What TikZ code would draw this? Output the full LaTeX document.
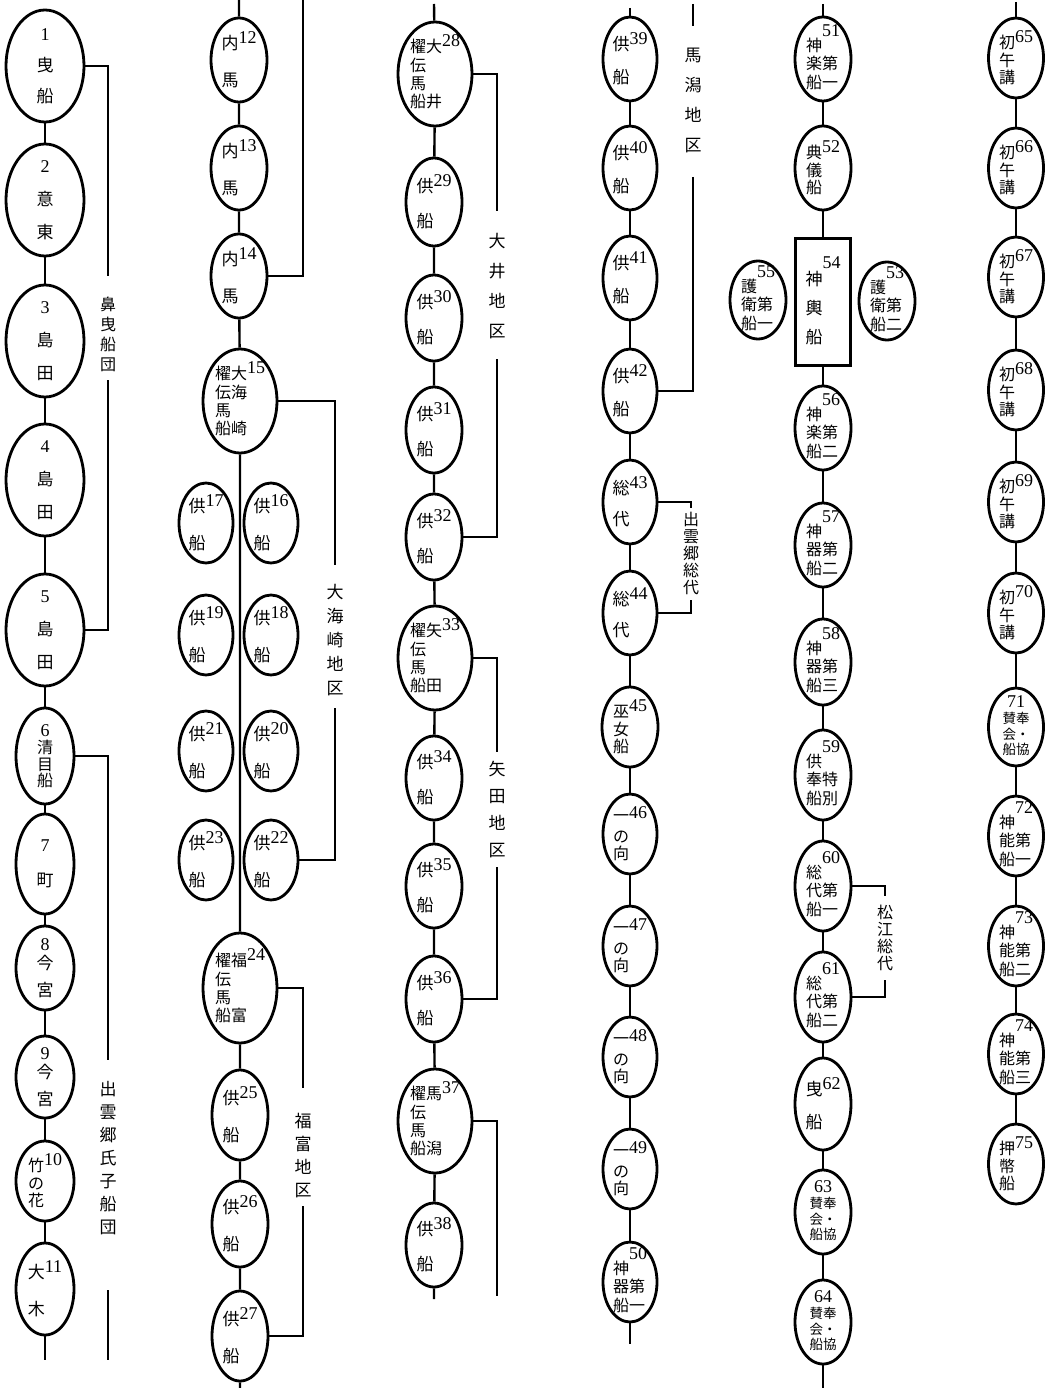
\documentclass[tikz,border=0pt]{standalone}
\usepackage{fontspec}
\newfontfamily\jp{Noto Sans CJK JP}
\newfontfamily\numf{Liberation Serif}
\usetikzlibrary{shapes.geometric}

% numbers written beside or above the boat names
\newcommand\bn[1]{\raisebox{6pt}{\numf\fontsize{18}{18}\selectfont#1}}
\newcommand\bnum[1]{{\numf\fontsize{18}{18}\selectfont#1}}

\begin{document}
\begin{tikzpicture}[
    x=1pt, y=-1pt,
    font=\jp\fontsize{17}{19}\selectfont,
    boat/.style={
        ellipse, draw, line width=2.8pt, inner sep=-40pt,
        minimum width=56pt, minimum height=84pt, align=left,
    },
    bigboat/.style={boat, minimum width=78pt, minimum height=112pt, align=center},
    oarboat/.style={boat, minimum width=74pt, minimum height=104pt, tight},
    pairboat/.style={boat, minimum width=54pt, minimum height=80pt},
    shrine/.style={
        rectangle, draw, line width=2.8pt, inner sep=-40pt,
        minimum width=55pt, minimum height=127pt,
    },
    tight/.style={font=\jp\fontsize{16}{17.5}\selectfont},
    mini/.style={font=\jp\fontsize{13.5}{14}\selectfont},
    lnk/.style={line width=2.4pt},
    brk/.style={line width=2pt},
    grp/.style={align=center, inner sep=0pt, font=\jp\fontsize{17}{18}\selectfont},
]
\useasboundingbox[fill=white] (0,0) rectangle (1050,1388);

% ============ COLUMN 1 ============
\node[bigboat] (b1) at (45,66)  {\bnum{1}\\[12pt]曳\\[12pt]船};
\node[bigboat] (b2) at (45,200) {\bnum{2}\\[14pt]意\\[14pt]東};
\node[bigboat] (b3) at (45,341) {\bnum{3}\\[14pt]島\\[14pt]田};
\node[bigboat] (b4) at (45,480) {\bnum{4}\\[14pt]島\\[14pt]田};
\node[bigboat] (b5) at (45,630) {\bnum{5}\\[14pt]島\\[14pt]田};
\node[boat, tight, align=center, minimum width=58pt, minimum height=96pt] (b6) at (45,756) {\bnum{6}\\[0pt]清\\[-1pt]目\\[-1pt]船};
\node[boat, align=center, minimum width=58pt, minimum height=100pt] (b7) at (45,864) {\bnum{7}\\[16pt]町};
\node[boat, align=center, minimum width=58pt] (b8) at (45,968) {\bnum{8}\\[0pt]今\\[8pt]宮};
\node[boat, align=center, minimum width=58pt, minimum height=82pt] (b9) at (45,1077) {\bnum{9}\\[0pt]今\\[8pt]宮};
\node[boat, tight, minimum width=58pt, minimum height=80pt] (b10) at (45,1181) {竹\bn{10}\\の\\花};
\node[boat, minimum width=58pt, minimum height=92pt] (b11) at (45,1289) {大\bn{11}\\[18pt]木};
\coordinate (c1end) at (45,1360);

\draw[lnk] (b1) -- (b2) (b2) -- (b3) (b3) -- (b4) (b4) -- (b5) (b5) -- (b6)
    (b6) -- (b7) (b7) -- (b8) (b8) -- (b9) (b9) -- (b10) (b10) -- (b11) (b11) -- (c1end);

% -- bracket: 鼻曳船団 --
\coordinate (brA1) at (108,276);
\coordinate (brA2) at (108,380);
\node[grp, font=\jp\fontsize{16}{18}\selectfont] (gA) at (108,334) {鼻\\[2pt]曳\\[2pt]船\\[2pt]団};
\draw[brk] (b1.east) -| (brA1);
\draw[brk] (brA2) |- (b5.east);

% -- bracket: 出雲郷氏子船団 (runs on into column 2) --
\coordinate (brB1) at (108,1060);
\coordinate (brB2) at (108,1290);
\coordinate (brB3) at (108,1360);
\node[grp] (gB) at (108,1158) {出\\[5pt]雲\\[5pt]郷\\[5pt]氏\\[5pt]子\\[5pt]船\\[5pt]団};
\draw[brk] (b6.east) -| (brB1);
\draw[brk] (brB2) -- (brB3);

% ============ COLUMN 2 ============
\node[boat] (b12) at (239,60)  {内\bn{12}\\[18pt]馬};
\node[boat] (b13) at (239,168) {内\bn{13}\\[18pt]馬};
\node[boat] (b14) at (239,276) {内\bn{14}\\[18pt]馬};
\node[oarboat] (b15) at (240,401) {\begin{tabular}{@{}l@{}l@{}}櫂&大\bn{15}\\伝&海\\馬&\\船&崎\end{tabular}};

\node[pairboat] (b17) at (206,523) {供\bn{17}\\[18pt]船};
\node[pairboat] (b16) at (271,523) {供\bn{16}\\[18pt]船};
\node[pairboat] (b19) at (206,635) {供\bn{19}\\[18pt]船};
\node[pairboat] (b18) at (271,635) {供\bn{18}\\[18pt]船};
\node[pairboat] (b21) at (206,751) {供\bn{21}\\[18pt]船};
\node[pairboat] (b20) at (271,751) {供\bn{20}\\[18pt]船};
\node[pairboat] (b23) at (206,860) {供\bn{23}\\[18pt]船};
\node[pairboat] (b22) at (271,860) {供\bn{22}\\[18pt]船};

\node[oarboat, minimum height=110pt] (b24) at (240,988) {\begin{tabular}{@{}l@{}l@{}}櫂&福\bn{24}\\伝&\\馬&\\船&富\end{tabular}};
\node[boat, minimum height=90pt] (b25) at (240,1115) {供\bn{25}\\[18pt]船};
\node[boat, minimum height=86pt] (b26) at (240,1224) {供\bn{26}\\[18pt]船};
\node[boat, minimum height=90pt] (b27) at (240,1336) {供\bn{27}\\[18pt]船};
\coordinate (c2top) at (239,0);
\coordinate (c2end) at (240,1388);

\draw[lnk] (c2top) -- (b12) (b12) -- (b13) (b13) -- (b14) (b14) -- (b15)
    (b15) -- (b24) (b24) -- (b25) (b25) -- (b26) (b26) -- (b27) (b27) -- (c2end);

% -- bracket: 出雲郷氏子船団, upper end --
\coordinate (brB4) at (303,0);
\draw[brk] (brB4) |- (b14.east);

% -- bracket: 大海崎地区 --
\coordinate (brC1) at (335,565);
\coordinate (brC2) at (335,708);
\node[grp] (gC) at (335,640) {大\\[6pt]海\\[6pt]崎\\[6pt]地\\[6pt]区};
\draw[brk] (b15.east) -| (brC1);
\draw[brk] (brC2) |- (b22.east);

% -- bracket: 福富地区 --
\coordinate (brD1) at (303,1088);
\coordinate (brD2) at (303,1206);
\node[grp] (gD) at (303,1156) {福\\[5pt]富\\[5pt]地\\[5pt]区};
\draw[brk] (b24.east) -| (brD1);
\draw[brk] (brD2) |- (b27.east);

% ============ COLUMN 3 ============
\node[oarboat] (b28) at (435,74) {\begin{tabular}{@{}l@{}l@{}}櫂&大\bn{28}\\伝&\\馬&\\船&井\end{tabular}};
\node[boat, minimum height=88pt] (b29) at (434,202) {供\bn{29}\\[16pt]船};
\node[boat, minimum height=86pt] (b30) at (434,318) {供\bn{30}\\[16pt]船};
\node[boat, minimum height=86pt] (b31) at (434,430) {供\bn{31}\\[16pt]船};
\node[boat, minimum height=86pt] (b32) at (434,537) {供\bn{32}\\[16pt]船};
\node[oarboat] (b33) at (435,658) {\begin{tabular}{@{}l@{}l@{}}櫂&矢\bn{33}\\伝&\\馬&\\船&田\end{tabular}};
\node[boat] (b34) at (434,778) {供\bn{34}\\[16pt]船};
\node[boat] (b35) at (434,886) {供\bn{35}\\[16pt]船};
\node[boat, minimum height=86pt] (b36) at (434,999) {供\bn{36}\\[16pt]船};
\node[oarboat] (b37) at (435,1121) {\begin{tabular}{@{}l@{}l@{}}櫂&馬\bn{37}\\伝&\\馬&\\船&潟\end{tabular}};
\node[boat] (b38) at (434,1245) {供\bn{38}\\[16pt]船};
\coordinate (c3top) at (434,4);
\coordinate (c3end) at (434,1299);

\draw[lnk] (c3top) -- (b28) (b28) -- (b29) (b29) -- (b30) (b30) -- (b31) (b31) -- (b32)
    (b32) -- (b33) (b33) -- (b34) (b34) -- (b35) (b35) -- (b36) (b36) -- (b37)
    (b37) -- (b38) (b38) -- (c3end);

% -- bracket: 大井地区 --
\coordinate (brE1) at (497,211);
\coordinate (brE2) at (497,359);
\node[grp] (gE) at (497,286) {大\\[12pt]井\\[12pt]地\\[12pt]区};
\draw[brk] (b28.east) -| (brE1);
\draw[brk] (brE2) |- (b32.east);

% -- bracket: 矢田地区 --
\coordinate (brF1) at (497,752);
\coordinate (brF2) at (497,867);
\node[grp] (gF) at (497,810) {矢\\[9pt]田\\[9pt]地\\[9pt]区};
\draw[brk] (b33.east) -| (brF1);
\draw[brk] (brF2) |- (b36.east);

% -- bracket: 馬潟地区 (runs on into column 4) --
\coordinate (brG1) at (497,1296);
\draw[brk] (b37.east) -| (brG1);

% ============ COLUMN 4 ============
\node[boat, minimum width=54pt] (b39) at (630,59)  {供\bn{39}\\[14pt]船};
\node[boat, minimum width=54pt] (b40) at (630,168) {供\bn{40}\\[14pt]船};
\node[boat, minimum width=54pt] (b41) at (630,278) {供\bn{41}\\[14pt]船};
\node[boat, minimum width=54pt] (b42) at (630,391) {供\bn{42}\\[14pt]船};
\node[boat, minimum width=54pt] (b43) at (630,502) {総\bn{43}\\[12pt]代};
\node[boat, minimum width=54pt] (b44) at (630,613) {総\bn{44}\\[12pt]代};
\node[boat, tight, minimum width=56pt, minimum height=80pt] (b45) at (630,727) {巫\bn{45}\\女\\船};
\node[boat, tight, minimum width=54pt, minimum height=80pt] (b46) at (630,834) {\raisebox{3pt}{一}\bn{46}\\の\\向};
\node[boat, tight, minimum width=54pt, minimum height=80pt] (b47) at (630,946) {\raisebox{3pt}{一}\bn{47}\\の\\向};
\node[boat, tight, minimum width=54pt, minimum height=80pt] (b48) at (630,1057) {\raisebox{3pt}{一}\bn{48}\\の\\向};
\node[boat, tight, minimum width=54pt, minimum height=80pt] (b49) at (630,1169) {\raisebox{3pt}{一}\bn{49}\\の\\向};
\node[boat, tight, minimum width=54pt, minimum height=80pt] (b50) at (630,1282) {\begin{tabular}{@{}l@{}l@{}}&\bnum{50}\\[-4pt]神&\\器&第\\船&一\end{tabular}};
\coordinate (c4top) at (630,8);
\coordinate (c4end) at (630,1344);

\draw[lnk] (c4top) -- (b39) (b39) -- (b40) (b40) -- (b41) (b41) -- (b42) (b42) -- (b43)
    (b43) -- (b44) (b44) -- (b45) (b45) -- (b46) (b46) -- (b47) (b47) -- (b48)
    (b48) -- (b49) (b49) -- (b50) (b50) -- (c4end);

% -- bracket: 馬潟地区, upper end --
\coordinate (brG2) at (693,4);
\coordinate (brG3) at (693,26);
\coordinate (brG4) at (693,177);
\node[grp] (gG) at (693,100) {馬\\[12pt]潟\\[12pt]地\\[12pt]区};
\draw[brk] (brG2) -- (brG3);
\draw[brk] (brG4) |- (b42.east);

% -- bracket: 出雲郷総代 --
\coordinate (brH1) at (691,508);
\coordinate (brH2) at (691,600);
\node[grp, font=\jp\fontsize{16}{17}\selectfont] (gH) at (691,553) {出\\雲\\郷\\総\\代};
\draw[brk] (b43.east) -| (brH1);
\draw[brk] (brH2) |- (b44.east);

% ============ COLUMN 5 ============
\node[boat, tight] (b51) at (823,59) {\begin{tabular}{@{}l@{}l@{}}&\bnum{51}\\[-4pt]神&\\楽&第\\船&一\end{tabular}};
\node[boat, tight] (b52) at (823,168) {典\bn{52}\\儀\\船};
\node[shrine] (b54) at (823,302) {\begin{tabular}{@{}l@{}l@{}}&\bnum{54}\\[-3pt]神&\\[9pt]輿&\\[9pt]船&\end{tabular}};
\node[boat, tight, minimum height=78pt] (b55) at (758,300) {\begin{tabular}{@{}l@{}l@{}}&\bnum{55}\\[-4pt]護&\\衛&第\\船&一\end{tabular}};
\node[boat, tight, minimum height=78pt] (b53) at (887,301) {\begin{tabular}{@{}l@{}l@{}}&\bnum{53}\\[-4pt]護&\\衛&第\\船&二\end{tabular}};
\node[boat, tight, minimum height=84pt] (b56) at (823,428) {\begin{tabular}{@{}l@{}l@{}}&\bnum{56}\\[-4pt]神&\\楽&第\\船&二\end{tabular}};
\node[boat, tight, minimum height=84pt] (b57) at (823,545) {\begin{tabular}{@{}l@{}l@{}}&\bnum{57}\\[-4pt]神&\\器&第\\船&二\end{tabular}};
\node[boat, tight, minimum height=86pt] (b58) at (823,662) {\begin{tabular}{@{}l@{}l@{}}&\bnum{58}\\[-4pt]神&\\器&第\\船&三\end{tabular}};
\node[boat, tight, minimum height=90pt] (b59) at (823,775) {\begin{tabular}{@{}l@{}l@{}}&\bnum{59}\\[-4pt]供&\\奉&特\\船&別\end{tabular}};
\node[boat, tight, minimum height=90pt] (b60) at (823,886) {\begin{tabular}{@{}l@{}l@{}}&\bnum{60}\\[-4pt]総&\\代&第\\船&一\end{tabular}};
\node[boat, tight, minimum height=90pt] (b61) at (823,997) {\begin{tabular}{@{}l@{}l@{}}&\bnum{61}\\[-4pt]総&\\代&第\\船&二\end{tabular}};
\node[boat, minimum height=92pt] (b62) at (823,1104) {曳\bn{62}\\[14pt]船};
\node[boat, mini] (b63) at (823,1212) {\begin{tabular}{@{}c@{}c@{}}\multicolumn{2}{@{}c@{}}{\bnum{63}}\\[1pt]賛&奉\\会&・\\船&協\end{tabular}};
\node[boat, mini] (b64) at (823,1322) {\begin{tabular}{@{}c@{}c@{}}\multicolumn{2}{@{}c@{}}{\bnum{64}}\\[1pt]賛&奉\\会&・\\船&協\end{tabular}};
\coordinate (c5top) at (823,4);
\coordinate (c5end) at (823,1388);

\draw[lnk] (c5top) -- (b51) (b51) -- (b52) (b52) -- (b54) (b54) -- (b56) (b56) -- (b57)
    (b57) -- (b58) (b58) -- (b59) (b59) -- (b60) (b60) -- (b61) (b61) -- (b62)
    (b62) -- (b63) (b63) -- (b64) (b64) -- (c5end);

% -- bracket: 松江総代 --
\coordinate (brI1) at (885,896);
\coordinate (brI2) at (885,980);
\node[grp, font=\jp\fontsize{16}{17}\selectfont] (gI) at (885,938) {松\\江\\総\\代};
\draw[brk] (b60.east) -| (brI1);
\draw[brk] (brI2) |- (b61.east);

% ============ COLUMN 6 ============
\node[boat, tight, minimum width=55pt, minimum height=80pt] (b65) at (1016,58)  {初\bn{65}\\午\\講};
\node[boat, tight, minimum width=55pt, minimum height=80pt] (b66) at (1016,168) {初\bn{66}\\午\\講};
\node[boat, tight, minimum width=55pt, minimum height=80pt] (b67) at (1016,277) {初\bn{67}\\午\\講};
\node[boat, tight, minimum width=55pt, minimum height=80pt] (b68) at (1016,390) {初\bn{68}\\午\\講};
\node[boat, tight, minimum width=55pt, minimum height=80pt] (b69) at (1016,502) {初\bn{69}\\午\\講};
\node[boat, tight, minimum width=55pt, minimum height=80pt] (b70) at (1016,613) {初\bn{70}\\午\\講};
\node[boat, mini, minimum width=55pt, minimum height=78pt] (b71) at (1016,727) {\begin{tabular}{@{}c@{}c@{}}\multicolumn{2}{@{}c@{}}{\bnum{71}}\\[1pt]賛&奉\\会&・\\船&協\end{tabular}};
\node[boat, tight, minimum width=55pt, minimum height=80pt] (b72) at (1016,836) {\begin{tabular}{@{}l@{}l@{}}&\bnum{72}\\[-4pt]神&\\能&第\\船&一\end{tabular}};
\node[boat, tight, minimum width=55pt, minimum height=80pt] (b73) at (1016,946) {\begin{tabular}{@{}l@{}l@{}}&\bnum{73}\\[-4pt]神&\\能&第\\船&二\end{tabular}};
\node[boat, tight, minimum width=55pt, minimum height=80pt] (b74) at (1016,1054) {\begin{tabular}{@{}l@{}l@{}}&\bnum{74}\\[-4pt]神&\\能&第\\船&三\end{tabular}};
\node[boat, tight, minimum width=55pt, minimum height=80pt] (b75) at (1016,1164) {押\bn{75}\\幣\\船};
\coordinate (c6top) at (1016,2);

\draw[lnk] (c6top) -- (b65) (b65) -- (b66) (b66) -- (b67) (b67) -- (b68) (b68) -- (b69)
    (b69) -- (b70) (b70) -- (b71) (b71) -- (b72) (b72) -- (b73) (b73) -- (b74)
    (b74) -- (b75);

\end{tikzpicture}
\end{document}
